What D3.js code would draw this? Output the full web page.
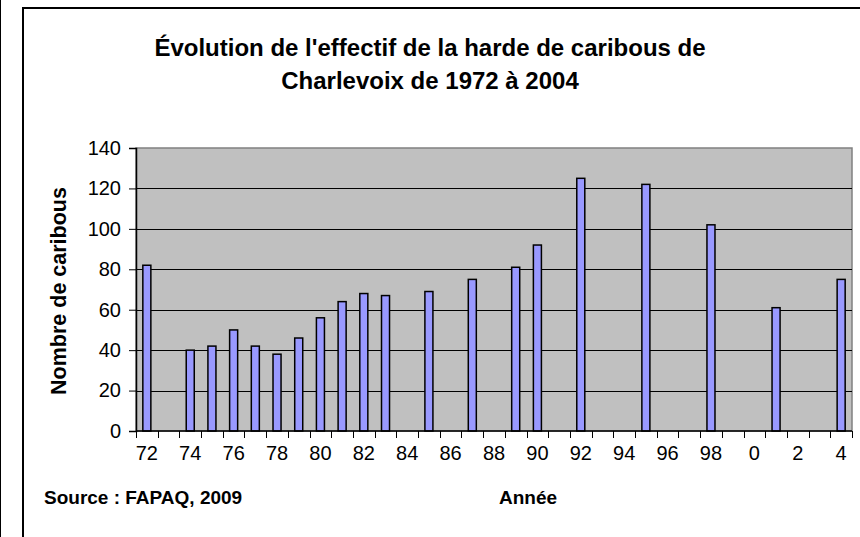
<!DOCTYPE html>
<html>
<head>
<meta charset="utf-8">
<script src="https://cdn.jsdelivr.net/npm/d3@7"></script>
<style>
  body { margin: 0; background: #fff; }
  svg { display: block; font-family: "Liberation Sans", Arial, sans-serif; }
</style>
</head>
<body>
<div class="canvas"></div>
<script>
// data
const yearLabels = d3.range(1972, 2005);
const surveyYears = [1972, 1974, 1975, 1976, 1977, 1978, 1979, 1980, 1981, 1982, 1983,
    1985, 1987, 1989, 1990, 1992, 1995, 1998, 2001, 2004];
const caribouCounts = [82, 40, 42, 50, 42, 38, 46, 56, 64, 68, 67,
    69, 75, 81, 92, 125, 122, 102, 61, 75];
const yTicks = [0, 20, 40, 60, 80, 100, 120, 140];
const titleLines = ["Évolution de l'effectif de la harde de caribous de", "Charlevoix de 1972 à 2004"];

const dimensions = { width: 860, height: 537 };
const plot = { left: 136, right: 852, top: 148, bottom: 431 };

const svg = d3.select('.canvas')
    .append('svg')
    .attr('width', dimensions.width)
    .attr('height', dimensions.height);

// outer frame (runs off the right and bottom edges)
svg.append('rect')
    .attr('x', 23).attr('y', 8)
    .attr('width', 900).attr('height', 600)
    .attr('fill', 'none')
    .attr('stroke', '#000')
    .attr('stroke-width', 2);

svg.append('line')
    .attr('x1', 0.5).attr('x2', 0.5)
    .attr('y1', 0).attr('y2', dimensions.height)
    .attr('stroke', '#000');

// title
svg.append('text')
    .attr('text-anchor', 'middle')
    .attr('font-size', 24)
    .attr('font-weight', 'bold')
    .selectAll('tspan')
    .data(titleLines)
    .enter().append('tspan')
        .attr('x', 430)
        .attr('y', (d, i) => 56 + i * 33)
        .text(d => d);

const x = d3.scaleBand()
    .domain(yearLabels)
    .range([plot.left, plot.right]);

const y = d3.scaleLinear()
    .domain([0, 140])
    .range([plot.bottom, plot.top]);

// plot area
svg.append('rect')
    .attr('x', plot.left).attr('y', plot.top)
    .attr('width', plot.right - plot.left)
    .attr('height', plot.bottom - plot.top)
    .attr('fill', '#c0c0c0')
    .attr('stroke', '#808080')
    .attr('stroke-width', 1.5);

// gridlines
svg.append('g')
    .selectAll('line')
    .data(yTicks.filter(t => t > 0 && t < 140))
    .enter().append('line')
        .attr('x1', plot.left).attr('x2', plot.right)
        .attr('y1', d => Math.round(y(d)) + 0.5)
        .attr('y2', d => Math.round(y(d)) + 0.5)
        .attr('stroke', '#000');

// bars
const barWidth = x.bandwidth() * 0.37;
svg.append('g')
    .selectAll('rect')
    .data(surveyYears.map((year, i) => ({ year, count: caribouCounts[i] })))
    .enter().append('rect')
        .attr('x', d => x(d.year) + (x.bandwidth() - barWidth) / 2)
        .attr('y', d => y(d.count))
        .attr('width', barWidth)
        .attr('height', d => plot.bottom - y(d.count))
        .attr('fill', '#9999ff')
        .attr('stroke', '#000')
        .attr('stroke-width', 1.5);

// y axis
const yAxis = d3.axisLeft(y)
    .tickValues(yTicks)
    .tickSize(7)
    .tickPadding(8);

const yAxisGroup = svg.append('g')
    .attr('transform', `translate(${plot.left}, 0)`)
    .call(yAxis);
yAxisGroup.select('.domain').attr('stroke', '#000').attr('stroke-width', 1.5);
yAxisGroup.selectAll('text').attr('font-size', 20).attr('font-family', null).attr('fill', '#000');

// x axis: ticks between the categories, labels on every second year
const xAxisGroup = svg.append('g');
xAxisGroup.append('line')
    .attr('x1', plot.left).attr('x2', plot.right)
    .attr('y1', plot.bottom).attr('y2', plot.bottom)
    .attr('stroke', '#000')
    .attr('stroke-width', 1.5);

const boundaries = yearLabels.map(year => x(year)).concat([plot.right]);
xAxisGroup.selectAll('.tick-mark')
    .data(boundaries)
    .enter().append('line')
        .attr('class', 'tick-mark')
        .attr('x1', d => Math.round(d) + 0.5).attr('x2', d => Math.round(d) + 0.5)
        .attr('y1', plot.bottom).attr('y2', plot.bottom + 7)
        .attr('stroke', '#000');

const xAxis = d3.axisBottom(x)
    .tickValues(yearLabels.filter(year => year % 2 === 0))
    .tickFormat(year => year % 100)
    .tickSize(0)
    .tickPadding(15);

const xLabels = svg.append('g')
    .attr('transform', `translate(0, ${plot.bottom})`)
    .call(xAxis);
xLabels.select('.domain').remove();
xLabels.selectAll('text').attr('font-size', 20).attr('font-family', null).attr('fill', '#000');

// axis titles and source
svg.append('text')
    .attr('transform', `translate(66, 291) rotate(-90)`)
    .attr('text-anchor', 'middle')
    .attr('font-size', 21.5)
    .attr('font-weight', 'bold')
    .text('Nombre de caribous');

svg.append('text')
    .attr('x', 528).attr('y', 504)
    .attr('text-anchor', 'middle')
    .attr('font-size', 19)
    .attr('font-weight', 'bold')
    .text('Année');

svg.append('text')
    .attr('x', 44).attr('y', 504)
    .attr('font-size', 19)
    .attr('font-weight', 'bold')
    .text('Source : FAPAQ, 2009');
</script>
</body>
</html>
